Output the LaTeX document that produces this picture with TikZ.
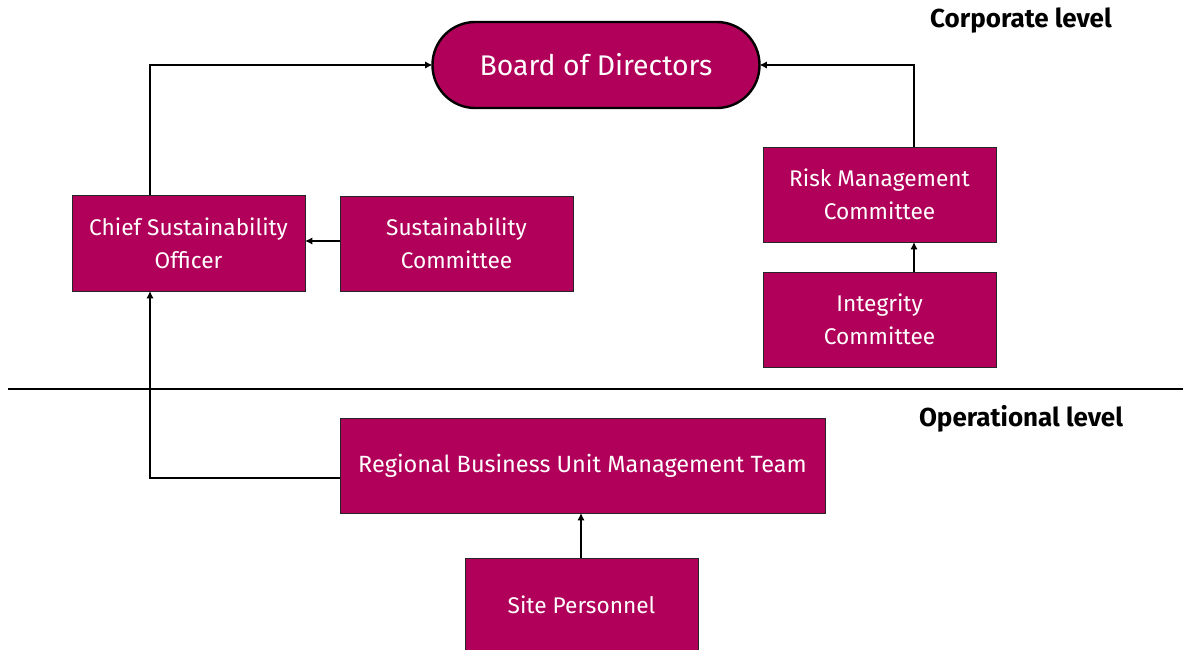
\documentclass[tikz,border=0pt]{standalone}
\usepackage{fontspec}
\setmainfont{Fira Sans}
\usetikzlibrary{arrows.meta}
\definecolor{mag}{RGB}{176,0,90}
\begin{document}
\begin{tikzpicture}[x=0.75pt,y=-0.75pt,
  box/.style={draw=black!85,line width=0.6pt,fill=mag,text=white,inner sep=0pt,outer sep=0pt,
    minimum width=174.75pt,minimum height=71.25pt,align=center,font=\fontsize{17}{25}\selectfont},
  conn/.style={line width=1.3pt,-{Latex[length=5.5pt,width=5.5pt]}},
  lvl/.style={font=\fontsize{19.5}{22}\selectfont\bfseries,inner sep=0pt}]
\useasboundingbox (0,0) rectangle (1183,650);
\node[box,draw=black,line width=1.8pt,rounded corners=32pt,minimum width=245.25pt,minimum height=64.5pt,
  font=\fontsize{21.3}{24}\selectfont] (bod) at (596,65) {Board of Directors};
\node[box,minimum height=72pt] (cso) at (188.5,243) {Chief Sustainability\\Officer};
\node[box] (sc) at (456.5,243.5) {Sustainability\\Committee};
\node[box] (rmc) at (879.5,194.5) {Risk Management\\Committee};
\node[box] (ic) at (879.5,319.5) {Integrity\\Committee};
\node[box,minimum width=363.75pt,font=\fontsize{17.6}{25}\selectfont] (rb) at (582.5,465.5) {Regional Business Unit Management Team};
\node[box,minimum height=69.75pt] (sp) at (581.5,604.5) {Site Personnel};
\node[lvl] (corp) at (1021,21) {Corporate level};
\node[lvl] (oper) at (1021,419) {Operational level};
\coordinate (l1) at (8,389);
\coordinate (l2) at (1183,389);
\draw[line width=1.3pt] (l1) -- (l2);
\draw[conn] (cso.north -| 150,0) |- (bod.west);
\draw[conn] (rmc.north -| 914,0) |- (bod.east);
\draw[conn] (sc.west |- 0,241) -- (cso.east |- 0,241);
\draw[conn] (ic.north -| 914,0) -- (rmc.south -| 914,0);
\draw[conn] (rb.west |- 0,478) -| (cso.south -| 150,0);
\draw[conn] (sp.north -| 581,0) -- (rb.south -| 581,0);
\end{tikzpicture}
\end{document}
